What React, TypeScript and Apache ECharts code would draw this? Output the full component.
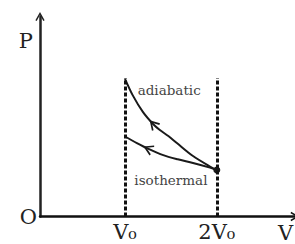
import React, { useEffect, useRef } from 'react';
import * as echarts from 'echarts';

// Volume axis positions (units of V0) of the two dashed guides and their labels
const volumeTicks = [1.0, 2.08];
const volumeTickLabels = ['V₀', '2V₀'];
const dashTop = 2.98;

// Adiabatic curve
const adiabaticV = [1.0, 1.09, 1.21, 1.33, 1.41, 1.51, 1.61, 1.8, 2.0, 2.08];
const adiabaticP = [2.96, 2.61, 2.25, 1.99, 1.86, 1.73, 1.58, 1.3, 1.075, 1.0];
const adiabaticArrowIdx = 3;

// Isothermal curve
const isothermalV = [1.0, 1.14, 1.27, 1.45, 1.62, 1.8, 2.0, 2.08];
const isothermalP = [1.72, 1.58, 1.46, 1.32, 1.23, 1.15, 1.05, 1.0];
const isothermalArrowIdx = 2;

// Curve annotations
const curveNames = ['adiabatic', 'isothermal'];
const curveNameV = [1.52, 1.54];
const curveNameP = [2.72, 0.785];

export default function App() {
  const ref = useRef<HTMLDivElement>(null);
  useEffect(() => {
    const chart = echarts.init(ref.current!, null, { renderer: 'svg' });
    const chevron = 'path://M5,0 L10,9 L8.6,9.7 L5,3.2 L1.4,9.7 L0,9 Z';
    const serif = "'DejaVu Serif', 'Liberation Serif', serif";
    const ink = '#1a1a1a';

    const adiabaticData = adiabaticV.map((v, i) => {
      const item: any = { value: [v, adiabaticP[i]] };
      if (i === adiabaticArrowIdx) {
        item.symbol = chevron;
        item.symbolSize = [11, 10];
        item.symbolRotate = 43;
      }
      if (i === adiabaticV.length - 1) {
        item.symbol = 'circle';
        item.symbolSize = 7;
      }
      return item;
    });
    const isothermalData = isothermalV.map((v, i) => {
      const item: any = { value: [v, isothermalP[i]] };
      if (i === isothermalArrowIdx) {
        item.symbol = chevron;
        item.symbolSize = [11, 10];
        item.symbolRotate = 65;
      }
      return item;
    });

    chart.setOption({
      animation: false,
      grid: {
        left: 40,
        right: 0,
        top: 16.5,
        bottom: 27.5,
        containLabel: false,
        outerBoundsMode: 'none',
      },
      xAxis: {
        type: 'value',
        min: 0,
        max: 3,
        axisLine: {
          lineStyle: { color: '#111', width: 2.5 },
          symbol: ['none', chevron],
          symbolSize: [10, 9],
        },
        axisTick: { show: false },
        axisLabel: { show: false },
        splitLine: { show: false },
        name: 'V',
        nameLocation: 'end',
        nameGap: -17,
        nameTextStyle: {
          fontFamily: serif,
          fontSize: 21,
          color: '#222',
          align: 'left',
          verticalAlign: 'top',
          padding: [6, 0, 0, 0],
        },
      },
      yAxis: {
        type: 'value',
        min: 0,
        max: 4.3,
        interval: 1,
        axisLine: {
          lineStyle: { color: '#222', width: 2.5 },
          symbol: ['none', chevron],
          symbolSize: [10, 9],
        },
        axisTick: { show: false },
        splitLine: { show: false },
        axisLabel: {
          formatter: (v: number) => (v === 0 ? 'O' : ''),
          fontFamily: serif,
          fontSize: 21,
          color: '#222',
          margin: 3,
        },
        name: 'P',
        nameLocation: 'end',
        nameGap: -35,
        nameTextStyle: {
          fontFamily: serif,
          fontSize: 21,
          color: '#222',
          align: 'right',
          verticalAlign: 'bottom',
          padding: [0, 7, 0, 0],
        },
      },
      series: [
        {
          type: 'line',
          name: 'adiabatic',
          smooth: 0.3,
          symbol: 'none',
          showSymbol: true,
          showAllSymbol: true,
          data: adiabaticData,
          lineStyle: { color: ink, width: 2 },
          itemStyle: { color: ink },
          markPoint: {
            symbol: 'circle',
            symbolSize: 0,
            silent: true,
            label: {
              show: true,
              position: 'inside',
              formatter: '{b}',
              fontFamily: serif,
              fontSize: 13.5,
              color: '#444',
            },
            data: curveNames.map((n, i) => ({ name: n, coord: [curveNameV[i], curveNameP[i]] })),
          },
        },
        {
          type: 'line',
          name: 'isothermal',
          smooth: 0.3,
          symbol: 'none',
          showSymbol: true,
          showAllSymbol: true,
          data: isothermalData,
          lineStyle: { color: ink, width: 2 },
          itemStyle: { color: ink },
          markLine: {
            symbol: ['none', 'none'],
            silent: true,
            lineStyle: { type: [4, 2], width: 3, color: '#111' },
            label: {
              show: true,
              position: 'start',
              formatter: '{b}',
              fontFamily: serif,
              fontSize: 21,
              color: '#222',
              distance: 5,
            },
            data: volumeTicks.map((v, i) => [
              { name: volumeTickLabels[i], coord: [v, 0] },
              { coord: [v, dashTop] },
            ]),
          },
        },
      ],
    });
    return () => chart.dispose();
  }, []);
  return (
    <div
      ref={ref}
      style={{ position: 'fixed', left: 0, top: 0, width: 295, height: 244, background: '#fff' }}
    />
  );
}
